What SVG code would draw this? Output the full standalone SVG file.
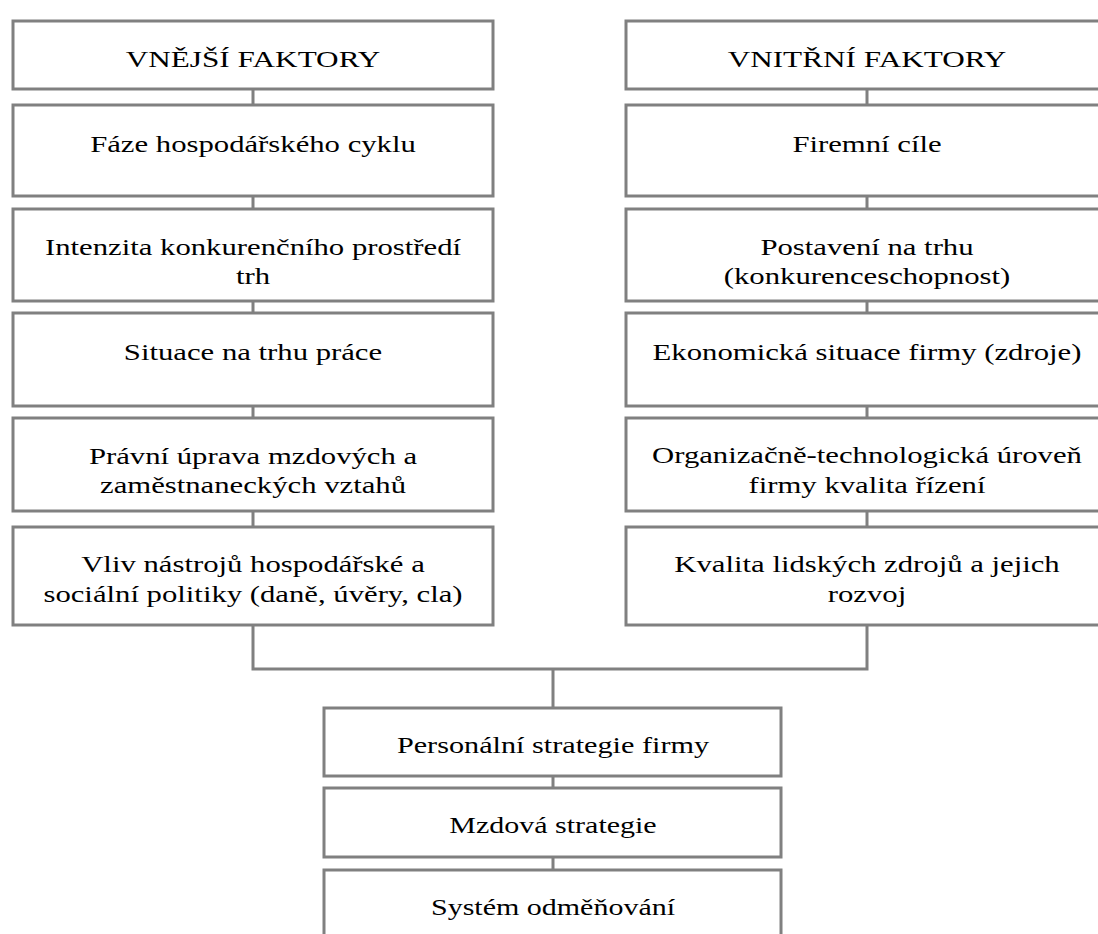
<svg xmlns="http://www.w3.org/2000/svg" width="1098" height="934" viewBox="0 0 1098 934">
<style>
.b{fill:#fff;stroke:#808080;stroke-width:3}
.c{fill:none;stroke:#808080;stroke-width:3}
.t{font-family:"Liberation Serif","Times New Roman",serif;font-size:24px;fill:#000;text-anchor:middle}
</style>
<rect width="1098" height="934" fill="#fff"/>
<g id="connectors">
<path class="c" d="M253 89V105M253 196V209M253 301V313M253 406V418M253 511V527"/>
<path class="c" d="M867 89V105M867 196V209M867 301V313M867 406V418M867 511V527"/>
<path class="c" d="M253 625V669H867V625M553 669V708"/>
<path class="c" d="M553 776V788M553 857V870"/>
</g>
<g id="vnejsi">
<rect class="b" x="13" y="21" width="480" height="68"/>
<text class="t" transform="translate(253 67) scale(1.3 1)">VNĚJŠÍ FAKTORY</text>
</g>
<g id="faze">
<rect class="b" x="13" y="105" width="480" height="91"/>
<text class="t" transform="translate(253 152) scale(1.28 1)">Fáze hospodářského cyklu</text>
</g>
<g id="intenzita">
<rect class="b" x="13" y="209" width="480" height="92"/>
<text class="t" transform="translate(253 255) scale(1.28 1)"><tspan x="0">Intenzita konkurenčního prostředí</tspan><tspan x="0" dy="29">trh</tspan></text>
</g>
<g id="situace">
<rect class="b" x="13" y="313" width="480" height="93"/>
<text class="t" transform="translate(253 360) scale(1.28 1)">Situace na trhu práce</text>
</g>
<g id="pravni">
<rect class="b" x="13" y="418" width="480" height="93"/>
<text class="t" transform="translate(253 464) scale(1.28 1)"><tspan x="0">Právní úprava mzdových a</tspan><tspan x="0" dy="29">zaměstnaneckých vztahů</tspan></text>
</g>
<g id="vliv">
<rect class="b" x="13" y="527" width="480" height="98"/>
<text class="t" transform="translate(253 572) scale(1.28 1)"><tspan x="0">Vliv nástrojů hospodářské a</tspan><tspan x="0" dy="30">sociální politiky (daně, úvěry, cla)</tspan></text>
</g>
<g id="vnitrni">
<rect class="b" x="626" y="21" width="482" height="68"/>
<text class="t" transform="translate(867 67) scale(1.3 1)">VNITŘNÍ FAKTORY</text>
</g>
<g id="cile">
<rect class="b" x="626" y="105" width="482" height="91"/>
<text class="t" transform="translate(867 152) scale(1.28 1)">Firemní cíle</text>
</g>
<g id="postaveni">
<rect class="b" x="626" y="209" width="482" height="92"/>
<text class="t" transform="translate(867 255) scale(1.28 1)"><tspan x="0">Postavení na trhu</tspan><tspan x="0" dy="29">(konkurenceschopnost)</tspan></text>
</g>
<g id="ekonomicka">
<rect class="b" x="626" y="313" width="482" height="93"/>
<text class="t" transform="translate(867 360) scale(1.28 1)">Ekonomická situace firmy (zdroje)</text>
</g>
<g id="organizacne">
<rect class="b" x="626" y="418" width="482" height="93"/>
<text class="t" transform="translate(867 463) scale(1.28 1)"><tspan x="0">Organizačně-technologická úroveň</tspan><tspan x="0" dy="30">firmy kvalita řízení</tspan></text>
</g>
<g id="kvalita">
<rect class="b" x="626" y="527" width="482" height="98"/>
<text class="t" transform="translate(867 572) scale(1.28 1)"><tspan x="0">Kvalita lidských zdrojů a jejich</tspan><tspan x="0" dy="30">rozvoj</tspan></text>
</g>
<g id="personalni">
<rect class="b" x="324" y="708" width="457" height="68"/>
<text class="t" transform="translate(553 753) scale(1.26 1)">Personální strategie firmy</text>
</g>
<g id="mzdova">
<rect class="b" x="324" y="788" width="457" height="69"/>
<text class="t" transform="translate(553 833) scale(1.25 1)">Mzdová strategie</text>
</g>
<g id="system">
<rect class="b" x="324" y="870" width="457" height="80"/>
<text class="t" transform="translate(553 915) scale(1.25 1)">Systém odměňování</text>
</g>
</svg>
